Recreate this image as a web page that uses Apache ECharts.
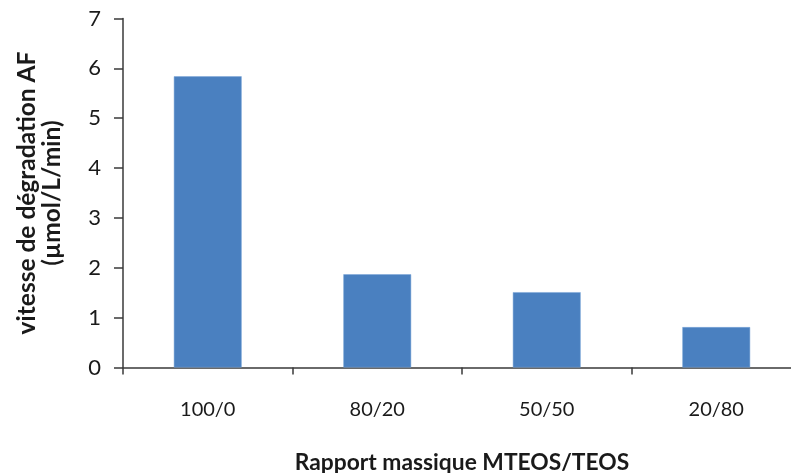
<!DOCTYPE html>
<html><head><meta charset="utf-8">
<script src="https://cdn.jsdelivr.net/npm/echarts@6/dist/echarts.min.js"></script>
<style>html,body{margin:0;padding:0;background:#fff}#c{width:791px;height:473px}</style>
</head><body><div id="c"></div>
<script>
const categories = ['100/0', '80/20', '50/50', '20/80'];
const values = [5.84, 1.87, 1.51, 0.81];
const yTicks = [0, 1, 2, 3, 4, 5, 6, 7];
const xTitle = 'Rapport massique MTEOS/TEOS';
const yTitle = 'vitesse de dégradation AF\n(µmol/L/min)';

const chart = echarts.init(document.getElementById('c'), null, {renderer: 'canvas'});
const font = 'Lato, "Open Sans", sans-serif';
chart.setOption({
  animation: false,
  backgroundColor: '#ffffff',
  grid: {left: 123, top: 18.5, width: 678, height: 349, containLabel: false, outerBoundsMode: 'none'},
  xAxis: {
    type: 'category', data: categories,
    name: xTitle, nameLocation: 'middle', nameGap: 84,
    nameTextStyle: {fontFamily: font, fontSize: 22.8, fontWeight: 'bold', color: '#1a1a1a'},
    axisLine: {lineStyle: {color: '#3a3a3a', width: 1.5}},
    axisTick: {show: true, length: 7, alignWithLabel: false, lineStyle: {color: '#3a3a3a', width: 1.5}},
    axisLabel: {fontFamily: font, fontSize: 20, color: '#1a1a1a', margin: 32}
  },
  yAxis: {
    type: 'value', min: yTicks[0], max: yTicks[yTicks.length - 1], interval: 1,
    name: yTitle, nameLocation: 'middle', nameGap: 58, nameRotate: 90,
    nameTextStyle: {fontFamily: font, fontSize: 24.5, fontWeight: 'bold', color: '#1a1a1a', lineHeight: 25},
    axisLine: {show: true, lineStyle: {color: '#3a3a3a', width: 1.5}},
    axisTick: {show: true, length: 9, lineStyle: {color: '#3a3a3a', width: 1.5}},
    axisLabel: {fontFamily: font, fontSize: 22, color: '#1a1a1a', margin: 22},
    splitLine: {show: false}
  },
  series: [{
    type: 'bar', data: values, barWidth: '40%',
    itemStyle: {color: '#4a80c0', borderColor: '#7aa6d8', borderWidth: 0.5}
  }]
});
</script></body></html>
